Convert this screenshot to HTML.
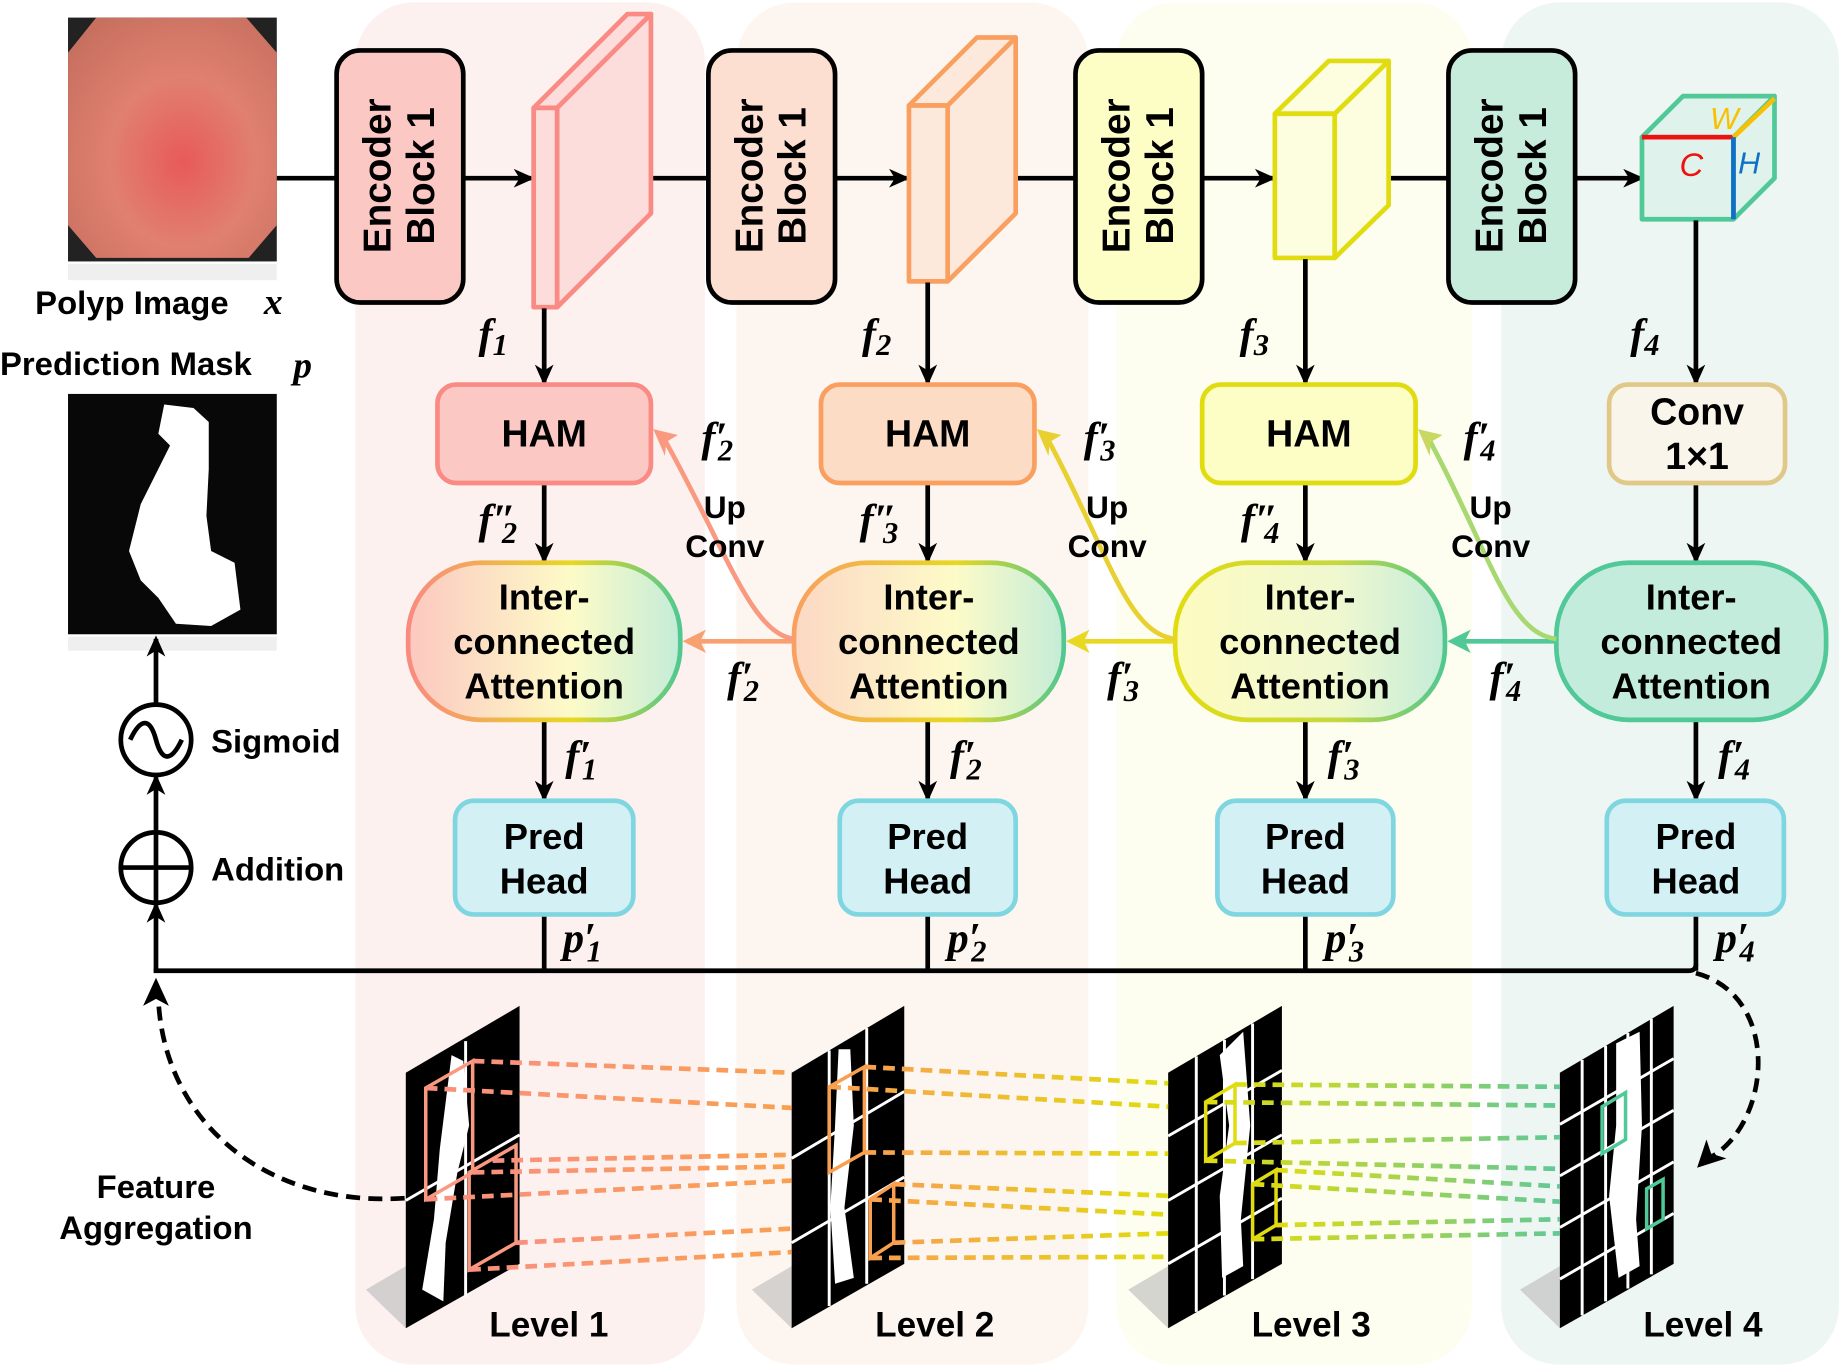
<!DOCTYPE html>
<html><head><meta charset="utf-8"><style>
html,body{margin:0;padding:0;background:#fff;}
svg{display:block;}
text{font-family:"Liberation Sans","DejaVu Sans",sans-serif;font-weight:bold;fill:#000;}
.m{font-family:"Liberation Serif","DejaVu Serif",serif;font-style:italic;font-weight:bold;}
</style></head><body>
<svg width="1839" height="1367" viewBox="0 0 1568 1166" preserveAspectRatio="none" xmlns="http://www.w3.org/2000/svg">
<defs>
<marker id="a" markerWidth="18" markerHeight="16" refX="15" refY="8" orient="auto" markerUnits="userSpaceOnUse" viewBox="0 0 18 16"><path d="M0,0 L18,8 L0,16 L5,8z" fill="#000"/></marker>
<linearGradient id="g1" x1="0" x2="1"><stop offset="0" stop-color="#fcc8c0"/><stop offset=".6" stop-color="#fdfbc8"/><stop offset="1" stop-color="#c4ecd8"/></linearGradient>
<linearGradient id="g2" x1="0" x2="1"><stop offset="0" stop-color="#fcd8c4"/><stop offset=".6" stop-color="#fdfbc8"/><stop offset="1" stop-color="#c4ecd8"/></linearGradient>
<linearGradient id="g3" x1="0" x2="1"><stop offset="0" stop-color="#fdfbc0"/><stop offset=".6" stop-color="#f0f8d0"/><stop offset="1" stop-color="#c4ecd8"/></linearGradient>
<linearGradient id="s1" x1="0" x2="1"><stop offset="0" stop-color="#f98a80"/><stop offset=".6" stop-color="#e8d820"/><stop offset="1" stop-color="#50c890"/></linearGradient>
<linearGradient id="s2" x1="0" x2="1"><stop offset="0" stop-color="#f9a060"/><stop offset=".6" stop-color="#e8d820"/><stop offset="1" stop-color="#50c890"/></linearGradient>
<linearGradient id="s3" x1="0" x2="1"><stop offset="0" stop-color="#e0dc10"/><stop offset=".6" stop-color="#c8d840"/><stop offset="1" stop-color="#50c890"/></linearGradient>
<radialGradient id="polyp" cx=".55" cy=".6" r=".7"><stop offset="0" stop-color="#e85a5a"/><stop offset=".5" stop-color="#e08070"/><stop offset="1" stop-color="#c87060"/></radialGradient>
<linearGradient id="dl1" x1="0" x2="1"><stop offset="0" stop-color="#f99080"/><stop offset="1" stop-color="#f9a050"/></linearGradient>
<linearGradient id="dl2" x1="0" x2="1"><stop offset="0" stop-color="#f9a050"/><stop offset="1" stop-color="#e0dc10"/></linearGradient>
<linearGradient id="dl3" x1="0" x2="1"><stop offset="0" stop-color="#e0dc10"/><stop offset="1" stop-color="#60c898"/></linearGradient>
</defs>

<rect x="303" y="2" width="298" height="1162" rx="50" fill="#fdf1ef"/>
<rect x="628" y="2" width="300" height="1162" rx="50" fill="#fdf6f0"/>
<rect x="952" y="2" width="303" height="1162" rx="50" fill="#fdfdf0"/>
<rect x="1280" y="2" width="288" height="1162" rx="50" fill="#eef6f3"/>

<rect x="58" y="15" width="178" height="208" fill="#222"/>
<polygon points="82,15 210,15 236,45 236,192 212,220 82,220 58,192 58,45" fill="url(#polyp)"/>
<rect x="58" y="225" width="178" height="14" fill="#e8e8e8" opacity=".7"/>
<text x="30" y="268" font-size="28">Polyp Image</text>
<text x="225" y="268" font-size="32" class="m">x</text>
<text x="0" y="320" font-size="28">Prediction Mask</text>
<text x="250" y="322" font-size="32" class="m">p</text>
<rect x="58" y="336" width="178" height="205" fill="#080808"/>
<path d="M140,345 L165,348 L178,360 L178,400 L176,440 L180,470 L200,480 L205,520 L180,534 L150,532 L135,510 L120,495 L110,470 L120,430 L135,400 L145,380 L135,370 Z" fill="#fff"/>
<rect x="58" y="543" width="178" height="12" fill="#e8e8e8" opacity=".7"/>

<g stroke="#000" stroke-width="4" fill="none">
<line x1="236" y1="152" x2="287" y2="152"/>
<line x1="395" y1="152" x2="453" y2="152" marker-end="url(#a)"/>
<line x1="555" y1="152" x2="604" y2="152"/>
<line x1="712" y1="152" x2="773" y2="152" marker-end="url(#a)"/>
<line x1="866" y1="152" x2="917" y2="152"/>
<line x1="1025" y1="152" x2="1085" y2="152" marker-end="url(#a)"/>
<line x1="1184" y1="152" x2="1235" y2="152"/>
<line x1="1343" y1="152" x2="1399" y2="152" marker-end="url(#a)"/>
</g>

<g stroke="#000" stroke-width="4">
<rect x="287" y="43" width="108" height="215" rx="20" fill="#fcc8c4"/>
<rect x="604" y="43" width="108" height="215" rx="20" fill="#fcdfd0"/>
<rect x="917" y="43" width="108" height="215" rx="20" fill="#fdfdc6"/>
<rect x="1235" y="43" width="108" height="215" rx="20" fill="#c8ecdc"/>
</g>
<g font-size="33" text-anchor="middle">
<text transform="translate(333,150) rotate(-90)">Encoder</text><text transform="translate(370,150) rotate(-90)">Block 1</text>
<text transform="translate(650,150) rotate(-90)">Encoder</text><text transform="translate(687,150) rotate(-90)">Block 1</text>
<text transform="translate(963,150) rotate(-90)">Encoder</text><text transform="translate(1000,150) rotate(-90)">Block 1</text>
<text transform="translate(1281,150) rotate(-90)">Encoder</text><text transform="translate(1318,150) rotate(-90)">Block 1</text>
</g>

<g stroke-width="4" stroke-linejoin="round">
<g stroke="#f98a84" fill="#fddcdc">
<polygon points="475,92 555,12 555,182 475,262"/>
<polygon points="455,92 535,12 555,12 475,92"/>
<rect x="455" y="92" width="20" height="170"/>
</g>
<g stroke="#f9a060" fill="#fde8dc">
<polygon points="808,90 866,32 866,182 808,240"/>
<polygon points="775,90 833,32 866,32 808,90"/>
<rect x="775" y="90" width="33" height="150"/>
</g>
<g stroke="#e0dc10" fill="#fdfde0">
<polygon points="1138,97 1184,52 1184,175 1138,220"/>
<polygon points="1087,97 1133,52 1184,52 1138,97"/>
<rect x="1087" y="97" width="51" height="123"/>
</g>
<g stroke="#50c898" fill="#dff3ec">
<polygon points="1478,117 1513,82 1513,152 1478,187"/>
<polygon points="1400,117 1435,82 1513,82 1478,117"/>
<rect x="1400" y="117" width="78" height="70"/>
</g>
<line x1="1400" y1="117" x2="1478" y2="117" stroke="#f01010" stroke-width="4"/>
<line x1="1478" y1="117" x2="1513" y2="84" stroke="#f8c000" stroke-width="4"/>
<line x1="1478" y1="117" x2="1478" y2="187" stroke="#1070c8" stroke-width="4"/>
</g>
<text x="1432" y="150" font-size="28" style="fill:#f01010;font-style:italic;font-weight:normal">C</text>
<text x="1458" y="110" font-size="26" style="fill:#f8c000;font-style:italic;font-weight:normal">W</text>
<text x="1482" y="148" font-size="26" style="fill:#1070c8;font-style:italic;font-weight:normal">H</text>

<g stroke="#000" stroke-width="4" fill="none" marker-end="url(#a)">
<line x1="464" y1="263" x2="464" y2="326"/>
<line x1="791" y1="241" x2="791" y2="326"/>
<line x1="1113" y1="221" x2="1113" y2="326"/>
<line x1="1446" y1="188" x2="1446" y2="326"/>
<line x1="464" y1="413" x2="464" y2="478"/>
<line x1="791" y1="413" x2="791" y2="478"/>
<line x1="1113" y1="413" x2="1113" y2="478"/>
<line x1="1446" y1="413" x2="1446" y2="478"/>
<line x1="464" y1="615" x2="464" y2="681"/>
<line x1="791" y1="615" x2="791" y2="681"/>
<line x1="1113" y1="615" x2="1113" y2="681"/>
<line x1="1446" y1="615" x2="1446" y2="681"/>
</g>

<rect x="373" y="328" width="182" height="84" rx="16" fill="#fcc8c4" stroke="#f98a84" stroke-width="4"/>
<rect x="700" y="328" width="182" height="84" rx="16" fill="#fcdcc4" stroke="#f9a060" stroke-width="4"/>
<rect x="1025" y="328" width="182" height="84" rx="16" fill="#fdfdc6" stroke="#e0dc10" stroke-width="4"/>
<rect x="1372" y="328" width="150" height="84" rx="16" fill="#f9f5ea" stroke="#e0c888" stroke-width="4"/>
<g font-size="32" text-anchor="middle">
<text x="464" y="381">HAM</text><text x="791" y="381">HAM</text><text x="1116" y="381">HAM</text>
<text x="1447" y="362">Conv</text><text x="1447" y="400">1×1</text>
</g>

<rect x="348" y="480" width="232" height="134" rx="62" fill="url(#g1)" stroke="url(#s1)" stroke-width="4"/>
<rect x="677" y="480" width="230" height="134" rx="62" fill="url(#g2)" stroke="url(#s2)" stroke-width="4"/>
<rect x="1002" y="480" width="230" height="134" rx="62" fill="url(#g3)" stroke="url(#s3)" stroke-width="4"/>
<rect x="1327" y="480" width="230" height="134" rx="62" fill="#c4ecdc" stroke="#50c898" stroke-width="4"/>
<g font-size="31" text-anchor="middle">
<text x="464" y="520">Inter-</text><text x="464" y="558">connected</text><text x="464" y="596">Attention</text>
<text x="792" y="520">Inter-</text><text x="792" y="558">connected</text><text x="792" y="596">Attention</text>
<text x="1117" y="520">Inter-</text><text x="1117" y="558">connected</text><text x="1117" y="596">Attention</text>
<text x="1442" y="520">Inter-</text><text x="1442" y="558">connected</text><text x="1442" y="596">Attention</text>
</g>

<g stroke-width="4" fill="none">
<line x1="677" y1="547" x2="590" y2="547" stroke="#f9a070"/>
<polygon points="582,547 602,537 597,547 602,557" fill="#f9a070"/>
<line x1="1002" y1="547" x2="917" y2="547" stroke="#e8d820"/>
<polygon points="909,547 929,537 924,547 929,557" fill="#e8d820"/>
<line x1="1327" y1="547" x2="1242" y2="547" stroke="#50c898"/>
<polygon points="1234,547 1254,537 1249,547 1254,557" fill="#50c898"/>
<path d="M677,545 C640,540 620,470 565,372" stroke="#f99a80"/>
<polygon points="557,366 578,371 568,377 567,389" fill="#f99a80"/>
<path d="M1002,545 C960,540 945,470 892,372" stroke="#e8d030"/>
<polygon points="884,366 905,371 895,377 894,389" fill="#e8d030"/>
<path d="M1327,545 C1285,540 1270,470 1217,372" stroke="#a8d870"/>
<polygon points="1209,366 1230,371 1220,377 1219,389" fill="#c8d860"/>
</g>
<g font-size="27" text-anchor="middle">
<text x="618" y="442">Up</text><text x="618" y="475">Conv</text>
<text x="944" y="442">Up</text><text x="944" y="475">Conv</text>
<text x="1271" y="442">Up</text><text x="1271" y="475">Conv</text>
</g>

<g font-size="36">
<text x="408" y="297" class="m">f<tspan font-size="26" dy="6">1</tspan></text>
<text x="735" y="297" class="m">f<tspan font-size="26" dy="6">2</tspan></text>
<text x="1057" y="297" class="m">f<tspan font-size="26" dy="6">3</tspan></text>
<text x="1390" y="297" class="m">f<tspan font-size="26" dy="6">4</tspan></text>
<text x="598" y="385" class="m">f′<tspan font-size="26" dy="8" dx="-8">2</tspan></text>
<text x="924" y="385" class="m">f′<tspan font-size="26" dy="8" dx="-8">3</tspan></text>
<text x="1248" y="385" class="m">f′<tspan font-size="26" dy="8" dx="-8">4</tspan></text>
<text x="408" y="455" class="m">f″<tspan font-size="26" dy="8" dx="-12">2</tspan></text>
<text x="733" y="455" class="m">f″<tspan font-size="26" dy="8" dx="-12">3</tspan></text>
<text x="1058" y="455" class="m">f″<tspan font-size="26" dy="8" dx="-12">4</tspan></text>
<text x="620" y="590" class="m">f′<tspan font-size="26" dy="8" dx="-8">2</tspan></text>
<text x="944" y="590" class="m">f′<tspan font-size="26" dy="8" dx="-8">3</tspan></text>
<text x="1270" y="590" class="m">f′<tspan font-size="26" dy="8" dx="-8">4</tspan></text>
<text x="482" y="657" class="m">f′<tspan font-size="26" dy="8" dx="-8">1</tspan></text>
<text x="810" y="657" class="m">f′<tspan font-size="26" dy="8" dx="-8">2</tspan></text>
<text x="1132" y="657" class="m">f′<tspan font-size="26" dy="8" dx="-8">3</tspan></text>
<text x="1465" y="657" class="m">f′<tspan font-size="26" dy="8" dx="-8">4</tspan></text>
<text x="480" y="812" class="m">p′<tspan font-size="26" dy="8" dx="-8">1</tspan></text>
<text x="808" y="812" class="m">p′<tspan font-size="26" dy="8" dx="-8">2</tspan></text>
<text x="1130" y="812" class="m">p′<tspan font-size="26" dy="8" dx="-8">3</tspan></text>
<text x="1463" y="812" class="m">p′<tspan font-size="26" dy="8" dx="-8">4</tspan></text>
</g>

<g fill="#d3f0f5" stroke="#7fd6e0" stroke-width="4">
<rect x="388" y="683" width="152" height="97" rx="16"/>
<rect x="716" y="683" width="150" height="97" rx="16"/>
<rect x="1038" y="683" width="150" height="97" rx="16"/>
<rect x="1370" y="683" width="151" height="97" rx="16"/>
</g>
<g font-size="31" text-anchor="middle">
<text x="464" y="724">Pred</text><text x="464" y="762">Head</text>
<text x="791" y="724">Pred</text><text x="791" y="762">Head</text>
<text x="1113" y="724">Pred</text><text x="1113" y="762">Head</text>
<text x="1446" y="724">Pred</text><text x="1446" y="762">Head</text>
</g>

<g stroke="#000" stroke-width="4" fill="none">
<line x1="464" y1="782" x2="464" y2="828"/>
<line x1="791" y1="782" x2="791" y2="828"/>
<line x1="1113" y1="782" x2="1113" y2="828"/>
<line x1="1446" y1="782" x2="1446" y2="828"/>
<path d="M131,828 L1440,828 Q1446,828 1446,822"/>
<line x1="133" y1="828" x2="133" y2="772" marker-end="url(#a)"/>
<line x1="133" y1="708" x2="133" y2="663" marker-end="url(#a)"/>
<line x1="133" y1="600" x2="133" y2="545" marker-end="url(#a)"/>
<circle cx="133" cy="740" r="30" fill="#fff"/>
<line x1="103" y1="740" x2="163" y2="740"/><line x1="133" y1="710" x2="133" y2="770"/>
<circle cx="133" cy="631" r="30" fill="#fff"/>
<path d="M111,631 C120,612 128,612 133,631 C138,650 146,650 155,631"/>
</g>
<text x="180" y="642" font-size="28">Sigmoid</text>
<text x="180" y="751" font-size="28">Addition</text>

<g stroke="#000" stroke-width="4" fill="none" stroke-dasharray="12,7">
<path d="M345,1022 C230,1030 140,960 135,852"/>
<path d="M1446,830 C1520,850 1510,960 1457,988"/>
</g>
<polygon points="133,834 122,858 133,852 144,858" fill="#000"/>
<polygon points="1447,996 1455,972 1459,984 1472,988" fill="#000"/>
<text x="133" y="1022" font-size="28" text-anchor="middle">Feature</text>
<text x="133" y="1057" font-size="28" text-anchor="middle">Aggregation</text>

<g>
<polygon points="312,1100 346,1080 346,1133" fill="#bbb" opacity=".6"/>
<polygon points="641,1100 675,1080 675,1133" fill="#bbb" opacity=".6"/>
<polygon points="962,1100 996,1080 996,1133" fill="#bbb" opacity=".6"/>
<polygon points="1296,1100 1330,1080 1330,1133" fill="#bbb" opacity=".6"/>
<polygon points="346,915 443,858 443,1078 346,1133" fill="#000"/>
<polygon points="675,915 771,858 771,1078 675,1133" fill="#000"/>
<polygon points="996,915 1093,858 1093,1078 996,1133" fill="#000"/>
<polygon points="1330,915 1427,858 1427,1078 1330,1133" fill="#000"/>
<path d="M385,900 L395,905 L400,960 L390,1000 L380,1060 L378,1110 L360,1100 L370,1040 L375,980 Z" fill="#fff"/>
<path d="M715,895 L725,895 L728,960 L720,1030 L728,1090 L712,1095 L708,1030 L712,960 Z" fill="#fff"/>
<path d="M1040,900 L1060,880 L1066,960 L1058,1040 L1060,1080 L1042,1090 L1040,1020 L1048,960 Z" fill="#fff"/>
<path d="M1378,890 L1398,880 L1400,960 L1395,1040 L1398,1080 L1380,1090 L1372,1020 L1378,960 Z" fill="#fff"/>
<g stroke="#fff" stroke-width="2.5">
<line x1="397" y1="888" x2="397" y2="1106"/>
<line x1="346" y1="1024" x2="443" y2="968"/>
<line x1="707" y1="896" x2="707" y2="1114"/><line x1="739" y1="877" x2="739" y2="1095"/>
<line x1="675" y1="988" x2="771" y2="931"/><line x1="675" y1="1060" x2="771" y2="1004"/>
<line x1="1020" y1="901" x2="1020" y2="1119"/><line x1="1044" y1="887" x2="1044" y2="1105"/><line x1="1068" y1="873" x2="1068" y2="1091"/>
<line x1="996" y1="969" x2="1093" y2="913"/><line x1="996" y1="1024" x2="1093" y2="968"/><line x1="996" y1="1078" x2="1093" y2="1022"/>
<line x1="1349" y1="904" x2="1349" y2="1122"/><line x1="1369" y1="892" x2="1369" y2="1110"/><line x1="1388" y1="881" x2="1388" y2="1099"/><line x1="1408" y1="869" x2="1408" y2="1087"/>
<line x1="1330" y1="959" x2="1427" y2="903"/><line x1="1330" y1="1003" x2="1427" y2="947"/><line x1="1330" y1="1047" x2="1427" y2="991"/><line x1="1330" y1="1091" x2="1427" y2="1035"/>
</g>
</g>
<g fill="none" stroke-width="3">
<polygon points="363,928 403,905 403,1000 363,1023" stroke="#f99a80"/>
<polygon points="400,1000 440,977 440,1060 400,1083" stroke="#f99a80"/>
<polygon points="707,927 737,910 737,983 707,1000" stroke="#f9a050"/>
<polygon points="742,1023 762,1010 762,1060 742,1073" stroke="#f9a050"/>
<polygon points="1028,940 1053,925 1053,975 1028,990" stroke="#e0dc10"/>
<polygon points="1068,1010 1088,998 1088,1045 1068,1057" stroke="#e0dc10"/>
<polygon points="1366,944 1386,932 1386,972 1366,984" stroke="#50c898"/>
<polygon points="1404,1014 1418,1006 1418,1040 1404,1048" stroke="#50c898"/>
</g>
<g fill="none" stroke-width="4" stroke-dasharray="10,6">
<g stroke="url(#dl1)">
<path d="M403,905 L675,915"/><path d="M363,928 L675,945"/>
<path d="M420,990 L675,985"/><path d="M403,1000 L675,995"/>
<path d="M363,1023 L675,1007"/><path d="M440,1060 L675,1048"/><path d="M400,1083 L675,1068"/>
</g>
<g stroke="url(#dl2)">
<path d="M737,910 L996,924"/><path d="M707,927 L996,944"/>
<path d="M737,983 L996,984"/><path d="M707,1000 L996,1000"/>
<path d="M762,1010 L996,1020"/><path d="M742,1023 L996,1036"/>
<path d="M762,1060 L996,1052"/><path d="M742,1073 L996,1072"/>
</g>
<g stroke="url(#dl3)">
<path d="M1053,925 L1330,927"/><path d="M1028,940 L1330,943"/>
<path d="M1053,975 L1330,970"/><path d="M1028,990 L1330,997"/>
<path d="M1088,998 L1330,1012"/><path d="M1068,1010 L1330,1025"/>
<path d="M1088,1045 L1330,1040"/><path d="M1068,1057 L1330,1052"/>
</g>
</g>
<g font-size="30" text-anchor="middle">
<text x="468" y="1140">Level 1</text><text x="797" y="1140">Level 2</text>
<text x="1118" y="1140">Level 3</text><text x="1452" y="1140">Level 4</text>
</g>
</svg>
</body></html>
